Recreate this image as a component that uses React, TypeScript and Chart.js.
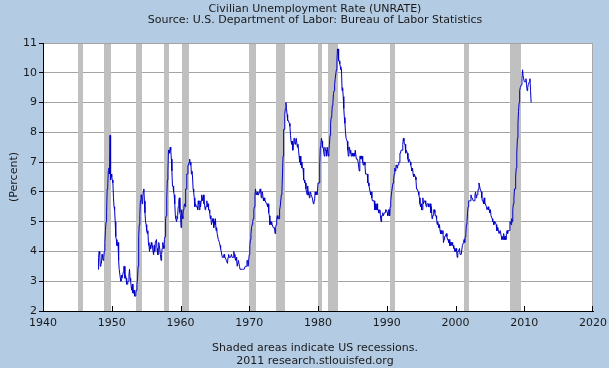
import React, { useEffect, useRef } from "react";
import { Chart, registerables } from "chart.js";

Chart.register(...registerables);

const TITLE = "Civilian Unemployment Rate (UNRATE)";
const SUBTITLE = "Source: U.S. Department of Labor: Bureau of Labor Statistics";
const Y_LABEL = "(Percent)";
const FOOT1 = "Shaded areas indicate US recessions.";
const FOOT2 = "2011 research.stlouisfed.org";

const X_MIN = 1940;
const X_MAX = 2020;
const X_STEP = 10;
const Y_MIN = 2;
const Y_MAX = 11;
const Y_STEP = 1;

// NBER recessions (peak month, trough month)
const recessionStarts = ["1945-02", "1948-11", "1953-07", "1957-08", "1960-04", "1969-12", "1973-11", "1980-01", "1981-07", "1990-07", "2001-03", "2007-12"];
const recessionEnds = ["1945-10", "1949-10", "1954-05", "1958-04", "1961-02", "1970-11", "1975-03", "1980-07", "1982-11", "1991-03", "2001-11", "2009-06"];

// Monthly civilian unemployment rate, %, first value = January of start year
const start1948 = 1948;
const rates1948 = [
  3.4, 3.8, 4.0, 3.9, 3.5, 3.6, 3.6, 3.9, 3.8, 3.7, 3.8, 4.0,
  4.3, 4.7, 5.0, 5.3, 6.1, 6.2, 6.7, 6.8, 6.6, 7.9, 6.4, 6.6,
];
const start1950 = 1950;
const rates1950s = [
  6.5, 6.4, 6.3, 5.8, 5.5, 5.4, 5.0, 4.5, 4.4, 4.2, 4.2, 4.3,
  3.7, 3.4, 3.4, 3.1, 3.0, 3.2, 3.1, 3.1, 3.3, 3.5, 3.5, 3.1,
  3.2, 3.1, 2.9, 2.9, 3.0, 3.0, 3.2, 3.4, 3.1, 3.0, 2.8, 2.7,
  2.9, 2.6, 2.6, 2.7, 2.5, 2.5, 2.6, 2.7, 2.9, 3.1, 3.5, 4.5,
  4.9, 5.2, 5.7, 5.9, 5.9, 5.6, 5.8, 6.0, 6.1, 5.7, 5.3, 5.0,
  4.9, 4.7, 4.6, 4.7, 4.3, 4.2, 4.0, 4.2, 4.1, 4.3, 4.2, 4.2,
  4.0, 3.9, 4.2, 4.0, 4.3, 4.3, 4.4, 4.1, 3.9, 3.9, 4.3, 4.2,
  4.2, 3.9, 3.7, 3.9, 4.1, 4.3, 4.2, 4.1, 4.4, 4.5, 5.1, 5.2,
  5.8, 6.4, 6.7, 7.4, 7.4, 7.3, 7.5, 7.4, 7.1, 6.7, 6.2, 6.2,
  6.0, 5.9, 5.6, 5.2, 5.1, 5.0, 5.1, 5.2, 5.5, 5.7, 5.8, 5.3,
];
const start1960 = 1960;
const rates1960s = [
  5.2, 4.8, 5.4, 5.2, 5.1, 5.4, 5.5, 5.6, 5.5, 6.1, 6.1, 6.6,
  6.6, 6.9, 6.9, 7.0, 7.1, 6.9, 7.0, 6.6, 6.7, 6.5, 6.1, 6.0,
  5.8, 5.5, 5.6, 5.6, 5.5, 5.5, 5.4, 5.7, 5.6, 5.4, 5.7, 5.5,
  5.7, 5.9, 5.7, 5.7, 5.9, 5.6, 5.6, 5.4, 5.5, 5.5, 5.7, 5.5,
  5.6, 5.4, 5.4, 5.3, 5.1, 5.2, 4.9, 5.0, 5.1, 5.1, 4.8, 5.0,
  4.9, 5.1, 4.7, 4.8, 4.6, 4.6, 4.4, 4.4, 4.3, 4.2, 4.1, 4.0,
  4.0, 3.8, 3.8, 3.8, 3.9, 3.8, 3.8, 3.8, 3.7, 3.7, 3.6, 3.8,
  3.9, 3.8, 3.8, 3.8, 3.8, 3.9, 3.8, 3.8, 3.8, 4.0, 3.9, 3.8,
  3.7, 3.8, 3.7, 3.5, 3.5, 3.7, 3.7, 3.5, 3.4, 3.4, 3.4, 3.4,
  3.4, 3.4, 3.4, 3.4, 3.4, 3.5, 3.5, 3.5, 3.7, 3.7, 3.5, 3.5,
];
const start1970 = 1970;
const rates1970s = [
  3.9, 4.2, 4.4, 4.6, 4.8, 4.9, 5.0, 5.1, 5.4, 5.5, 5.9, 6.1,
  5.9, 5.9, 6.0, 5.9, 5.9, 5.9, 6.0, 6.1, 6.0, 5.8, 6.0, 6.0,
  5.8, 5.7, 5.8, 5.7, 5.7, 5.7, 5.6, 5.6, 5.5, 5.6, 5.3, 5.2,
  4.9, 5.0, 4.9, 5.0, 4.9, 4.9, 4.8, 4.8, 4.8, 4.6, 4.8, 4.9,
  5.1, 5.2, 5.1, 5.1, 5.1, 5.4, 5.5, 5.5, 5.9, 6.0, 6.6, 7.2,
  8.1, 8.1, 8.6, 8.8, 9.0, 8.8, 8.6, 8.4, 8.4, 8.4, 8.3, 8.2,
  7.9, 7.7, 7.6, 7.7, 7.4, 7.6, 7.8, 7.8, 7.6, 7.7, 7.8, 7.8,
  7.5, 7.6, 7.4, 7.2, 7.0, 7.2, 6.9, 7.0, 6.8, 6.8, 6.8, 6.4,
  6.4, 6.3, 6.3, 6.1, 6.0, 5.9, 6.2, 5.9, 6.0, 5.8, 5.9, 6.0,
  5.9, 5.9, 5.8, 5.8, 5.6, 5.7, 5.7, 6.0, 5.9, 6.0, 5.9, 6.0,
];
const start1980 = 1980;
const rates1980s = [
  6.3, 6.3, 6.3, 6.9, 7.5, 7.6, 7.8, 7.7, 7.5, 7.5, 7.5, 7.2,
  7.5, 7.4, 7.4, 7.2, 7.5, 7.5, 7.2, 7.4, 7.6, 7.9, 8.3, 8.5,
  8.6, 8.9, 9.0, 9.3, 9.4, 9.6, 9.8, 9.8, 10.1, 10.4, 10.8, 10.8,
  10.4, 10.4, 10.3, 10.2, 10.1, 10.1, 9.4, 9.5, 9.2, 8.8, 8.5, 8.3,
  8.0, 7.8, 7.8, 7.7, 7.4, 7.2, 7.5, 7.5, 7.3, 7.4, 7.2, 7.3,
  7.3, 7.2, 7.2, 7.3, 7.2, 7.4, 7.4, 7.1, 7.1, 7.1, 7.0, 7.0,
  6.7, 7.2, 7.2, 7.1, 7.2, 7.2, 7.0, 6.9, 7.0, 7.0, 6.9, 6.6,
  6.6, 6.6, 6.6, 6.3, 6.3, 6.2, 6.1, 6.0, 5.9, 6.0, 5.8, 5.7,
  5.7, 5.7, 5.7, 5.4, 5.6, 5.4, 5.4, 5.6, 5.4, 5.4, 5.3, 5.3,
  5.4, 5.2, 5.0, 5.2, 5.2, 5.3, 5.2, 5.2, 5.3, 5.3, 5.4, 5.4,
];
const start1990 = 1990;
const rates1990s = [
  5.4, 5.3, 5.2, 5.4, 5.4, 5.2, 5.5, 5.7, 5.9, 5.9, 6.2, 6.3,
  6.4, 6.6, 6.8, 6.7, 6.9, 6.9, 6.8, 6.9, 6.9, 7.0, 7.0, 7.3,
  7.3, 7.4, 7.4, 7.4, 7.6, 7.8, 7.7, 7.6, 7.6, 7.3, 7.4, 7.4,
  7.3, 7.1, 7.0, 7.1, 7.1, 7.0, 6.9, 6.8, 6.7, 6.8, 6.6, 6.5,
  6.6, 6.6, 6.5, 6.4, 6.1, 6.1, 6.1, 6.0, 5.9, 5.8, 5.6, 5.5,
  5.6, 5.4, 5.4, 5.8, 5.6, 5.6, 5.7, 5.7, 5.6, 5.5, 5.6, 5.6,
  5.6, 5.5, 5.5, 5.6, 5.6, 5.3, 5.5, 5.1, 5.2, 5.2, 5.4, 5.4,
  5.3, 5.2, 5.2, 5.1, 4.9, 5.0, 4.9, 4.8, 4.9, 4.7, 4.6, 4.7,
  4.6, 4.6, 4.7, 4.3, 4.4, 4.5, 4.5, 4.5, 4.6, 4.5, 4.4, 4.4,
  4.3, 4.4, 4.2, 4.3, 4.2, 4.3, 4.3, 4.2, 4.2, 4.1, 4.1, 4.0,
];
const start2000 = 2000;
const rates2000s = [
  4.0, 4.1, 4.0, 3.8, 4.0, 4.0, 4.0, 4.1, 3.9, 3.9, 3.9, 3.9,
  4.2, 4.2, 4.3, 4.4, 4.3, 4.5, 4.6, 4.9, 5.0, 5.3, 5.5, 5.7,
  5.7, 5.7, 5.7, 5.9, 5.8, 5.8, 5.8, 5.7, 5.7, 5.7, 5.9, 6.0,
  5.8, 5.9, 5.9, 6.0, 6.1, 6.3, 6.2, 6.1, 6.1, 6.0, 5.8, 5.7,
  5.7, 5.6, 5.8, 5.6, 5.6, 5.6, 5.5, 5.4, 5.4, 5.5, 5.4, 5.4,
  5.3, 5.4, 5.2, 5.2, 5.1, 5.0, 5.0, 4.9, 5.0, 5.0, 5.0, 4.9,
  4.7, 4.8, 4.7, 4.7, 4.6, 4.6, 4.7, 4.7, 4.5, 4.4, 4.5, 4.4,
  4.6, 4.5, 4.4, 4.5, 4.4, 4.6, 4.7, 4.6, 4.7, 4.7, 4.7, 5.0,
  5.0, 4.9, 5.1, 5.0, 5.4, 5.6, 5.8, 6.1, 6.1, 6.5, 6.8, 7.3,
  7.8, 8.3, 8.7, 9.0, 9.4, 9.5, 9.5, 9.6, 9.8, 10.1, 9.9, 9.9,
];
const start2010 = 2010;
const rates2010s = [
  9.7, 9.7, 9.7, 9.8, 9.6, 9.4, 9.5, 9.6, 9.6, 9.7, 9.8, 9.4,
  9.0,
];

const BG = "#b3cbe3";
const FONT = '"DejaVu Sans", Verdana, sans-serif';
const TEXT_COLOR = "#1a1a1a";

function monthToYear(s: string, endOfMonth: boolean): number {
  const [y, m] = s.split("-").map(Number);
  return y + (m - 1 + (endOfMonth ? 1 : 0)) / 12;
}

function buildPoints() {
  const blocks: [number, number[]][] = [
    [start1948, rates1948],
    [start1950, rates1950s],
    [start1960, rates1960s],
    [start1970, rates1970s],
    [start1980, rates1980s],
    [start1990, rates1990s],
    [start2000, rates2000s],
    [start2010, rates2010s],
  ];
  const pts: { x: number; y: number }[] = [];
  for (const [startYear, values] of blocks) {
    values.forEach((v, i) => pts.push({ x: startYear + i / 12, y: v }));
  }
  return pts;
}

const fredPlugin = {
  id: "fredDecor",
  beforeDraw(chart: any) {
    const { ctx, chartArea: a, width, height } = chart;
    ctx.save();
    ctx.fillStyle = BG;
    ctx.fillRect(0, 0, width, height);
    ctx.fillStyle = "#ffffff";
    ctx.fillRect(a.left, a.top, a.right - a.left, a.bottom - a.top);
    ctx.restore();
  },
  beforeDatasetsDraw(chart: any) {
    const { ctx, chartArea: a } = chart;
    const xs = chart.scales.x;
    ctx.save();
    ctx.fillStyle = "#c0c0c0";
    for (let i = 0; i < recessionStarts.length; i++) {
      const x1 = xs.getPixelForValue(monthToYear(recessionStarts[i], false));
      const x2 = xs.getPixelForValue(monthToYear(recessionEnds[i], true));
      ctx.fillRect(Math.round(x1), a.top + 1, Math.max(1, Math.round(x2) - Math.round(x1)), a.bottom - a.top - 1);
    }
    // right edge of plot
    ctx.strokeStyle = "#a8a8a8";
    ctx.lineWidth = 1;
    ctx.beginPath();
    ctx.moveTo(Math.round(a.right) - 0.5, a.top);
    ctx.lineTo(Math.round(a.right) - 0.5, a.bottom);
    ctx.stroke();
    ctx.restore();
  },
  afterDatasetsDraw(chart: any) {
    const { ctx, chartArea: a } = chart;
    const xs = chart.scales.x;
    ctx.save();
    ctx.strokeStyle = "#000000";
    ctx.lineWidth = 1;
    ctx.beginPath();
    for (let v = X_MIN; v <= X_MAX; v += X_STEP) {
      let x = Math.round(xs.getPixelForValue(v)) + 0.5;
      if (v === X_MAX) x -= 1;
      ctx.moveTo(x, a.bottom);
      ctx.lineTo(x, a.bottom - 5);
    }
    ctx.stroke();
    ctx.restore();
  },
  afterDraw(chart: any) {
    const { ctx, chartArea: a } = chart;
    const cx = (a.left + a.right) / 2 - 3;
    ctx.save();
    ctx.fillStyle = TEXT_COLOR;
    ctx.font = `11px ${FONT}`;
    ctx.textAlign = "center";
    ctx.textBaseline = "middle";
    ctx.fillText(TITLE, cx, 9);
    ctx.fillText(SUBTITLE, cx, 20);
    ctx.fillText(FOOT1, cx, 348);
    ctx.fillText(FOOT2, cx, 361);
    ctx.translate(14, (a.top + a.bottom) / 2);
    ctx.rotate(-Math.PI / 2);
    ctx.fillText(Y_LABEL, 0, 0);
    ctx.restore();
  },
};

export default function App() {
  const canvasRef = useRef<HTMLCanvasElement | null>(null);

  useEffect(() => {
    const canvas = canvasRef.current;
    if (!canvas) return;
    const chart = new Chart(canvas, {
      type: "line",
      data: {
        datasets: [
          {
            label: "UNRATE",
            data: buildPoints(),
            borderColor: "#0000c8",
            borderWidth: 1,
            pointRadius: 0,
            tension: 0,
            fill: false,
          },
        ],
      },
      options: {
        animation: false,
        responsive: false,
        devicePixelRatio: 1,
        events: [],
        layout: { padding: { top: 43, right: 16, left: 0, bottom: 0 } },
        plugins: {
          legend: { display: false },
          tooltip: { enabled: false },
          title: { display: false },
        },
        scales: {
          x: {
            type: "linear",
            min: X_MIN,
            max: X_MAX,
            ticks: {
              stepSize: X_STEP,
              autoSkip: false,
              maxRotation: 0,
              color: TEXT_COLOR,
              font: { family: FONT, size: 11 },
              padding: 6,
              callback: (v: any) => String(v),
            },
            grid: { display: true, drawOnChartArea: false, drawTicks: false },
            border: { display: true, color: "#000000", width: 1 },
            afterFit: (s: any) => {
              s.height = 57;
              s.paddingLeft = 0;
              s.paddingRight = 0;
            },
          },
          y: {
            type: "linear",
            min: Y_MIN,
            max: Y_MAX,
            ticks: {
              stepSize: Y_STEP,
              color: TEXT_COLOR,
              font: { family: FONT, size: 11 },
              padding: 2,
              callback: (v: any) => String(v),
            },
            grid: { color: "#a4a4a4", tickColor: "#000000", tickLength: 4, lineWidth: 1 },
            border: { display: true, color: "#000000", width: 1 },
            afterFit: (s: any) => {
              s.width = 43;
              s.paddingTop = 0;
              s.paddingBottom = 0;
            },
          },
        },
      },
      plugins: [fredPlugin],
    });
    return () => chart.destroy();
  }, []);

  return (
    <div style={{ position: "fixed", left: 0, top: 0, width: 609, height: 368 }}>
      <canvas ref={canvasRef} width={609} height={368} style={{ display: "block", width: 609, height: 368 }} />
    </div>
  );
}
